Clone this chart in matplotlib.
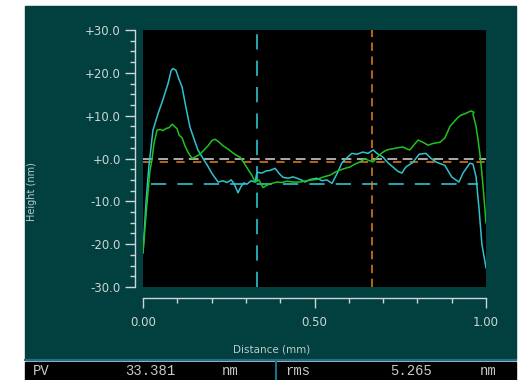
import numpy as np
import matplotlib
matplotlib.use("Agg")
from matplotlib import pyplot as plt
from matplotlib.patches import Rectangle

# Profile traces: distance (mm) and height (nm)
dist_a = [0.000, 0.009, 0.017, 0.029, 0.044, 0.058, 0.073, 0.082, 0.087, 0.096,
          0.105, 0.114, 0.125, 0.137, 0.149, 0.160, 0.175, 0.187, 0.201, 0.219,
          0.233, 0.245, 0.257, 0.265, 0.277, 0.286, 0.294, 0.303, 0.315, 0.327,
          0.332, 0.347, 0.359, 0.370, 0.385, 0.397, 0.408, 0.423, 0.437, 0.449,
          0.461, 0.472, 0.487, 0.507, 0.522, 0.536, 0.551, 0.566, 0.580, 0.595,
          0.609, 0.624, 0.641, 0.656, 0.671, 0.682, 0.700, 0.714, 0.729, 0.743,
          0.755, 0.766, 0.787, 0.805, 0.825, 0.840, 0.854, 0.880, 0.900, 0.921,
          0.933, 0.953, 0.962, 0.971, 0.980, 0.988, 1.000]
height_a = [-22.0, -10.0, -2.0, 6.6, 10.5, 13.7, 17.5, 20.5, 21.0, 20.6,
            18.5, 16.7, 12.0, 7.3, 4.5, 2.0, 0.0, -1.5, -3.5, -5.5,
            -5.2, -5.6, -5.0, -5.8, -8.0, -6.5, -5.7, -6.0, -5.2, -5.5,
            -3.2, -3.4, -2.9, -2.8, -2.3, -3.5, -4.4, -4.6, -4.3, -4.6,
            -5.0, -5.5, -4.9, -4.6, -5.2, -5.0, -5.8, -3.5, -1.0, 0.2,
            1.2, 1.0, 1.5, 1.2, 2.0, 1.2, 0.3, -1.0, -2.0, -3.0,
            -3.4, -2.0, -0.9, 1.0, 1.2, 0.0, -0.8, -1.6, -4.3, -5.5,
            -3.4, -1.1, -1.3, -4.3, -12.0, -20.0, -25.5]

dist_b = [0.000, 0.009, 0.015, 0.020, 0.026, 0.032, 0.041, 0.050, 0.058, 0.067,
          0.076, 0.085, 0.093, 0.099, 0.105, 0.114, 0.122, 0.131, 0.143, 0.155,
          0.166, 0.178, 0.190, 0.201, 0.210, 0.222, 0.233, 0.248, 0.259, 0.271,
          0.283, 0.294, 0.306, 0.318, 0.327, 0.338, 0.350, 0.362, 0.376, 0.391,
          0.405, 0.420, 0.437, 0.458, 0.475, 0.493, 0.507, 0.519, 0.531, 0.545,
          0.560, 0.574, 0.589, 0.603, 0.618, 0.633, 0.647, 0.656, 0.671, 0.685,
          0.700, 0.711, 0.729, 0.743, 0.758, 0.770, 0.778, 0.790, 0.802, 0.816,
          0.831, 0.845, 0.866, 0.880, 0.888, 0.895, 0.906, 0.917, 0.927, 0.940,
          0.956, 0.965, 0.962, 0.971, 0.977, 0.983, 0.988, 0.994, 1.000]
height_b = [-22.0, -13.0, -7.5, -3.0, -0.4, 3.5, 6.6, 6.8, 6.5, 7.0,
            7.2, 8.0, 7.4, 7.0, 5.5, 4.8, 3.0, 1.5, 0.0, 0.5,
            1.0, 2.0, 3.0, 4.2, 4.5, 3.8, 3.0, 2.2, 1.5, 0.8,
            0.3, -1.0, -2.5, -4.0, -5.5, -5.0, -6.8, -6.2, -5.8, -5.5,
            -5.6, -5.3, -5.5, -5.5, -5.2, -5.0, -4.9, -4.5, -4.2, -3.9,
            -3.2, -2.7, -2.3, -2.0, -1.3, -0.8, 0.0, -0.4, -0.8, 0.5,
            1.5, 2.0, 2.3, 2.5, 2.7, 2.2, 2.0, 3.2, 4.3, 3.8,
            3.1, 3.5, 3.8, 4.8, 6.2, 7.5, 8.5, 9.5, 10.1, 10.5,
            11.1, 10.8, 10.4, 7.5, 4.3, 0.5, -3.4, -9.0, -15.0]

# Cursor / reference lines
zero_level = 0.0
mean_level = -0.9
cursor_level = -5.9
cursor_a_x = 0.331
cursor_b_x = 0.668
cursor_span = (0.023, 0.977)

# Readouts in the status bar
pv_value = "33.381"
rms_value = "5.265"

W, H = 524, 380
panel = "#023f3f"
fg = "#cdd6d6"
cyan = "#2ec3cf"
green = "#1fc41f"
orange = "#d4781c"

plt.rcParams["lines.scale_dashes"] = False

fig = plt.figure(figsize=(W / 100, H / 100), dpi=100, facecolor="white")


def px(x0, y0, x1, y1):
    # pixel box (top-left origin) -> figure fraction
    return [x0 / W, 1 - y1 / H, (x1 - x0) / W, (y1 - y0) / H]


# Teal instrument panel and black status bar (behind the axes)
fig.patches.append(Rectangle((25 / W, 1 - 360 / H), 491 / W, 354 / H,
                             transform=fig.transFigure, color=panel, zorder=-2))
fig.patches.append(Rectangle((25 / W, 0), 491 / W, 18 / H,
                             transform=fig.transFigure, color="black", zorder=-2))
fig.add_artist(plt.Line2D([25 / W, 516 / W], [1 - 360 / H] * 2,
                          transform=fig.transFigure, color="#1b6f8f", lw=1.5))
fig.add_artist(plt.Line2D([276 / W, 276 / W], [0, 1 - 360 / H],
                          transform=fig.transFigure, color="#1b6f8f", lw=1.5))

ax = fig.add_axes(px(143, 30, 486, 287))
ax.set_facecolor("black")
ax.set_xlim(0, 1)
ax.set_ylim(-30, 30)

# Axes styling
for side in ("top", "right"):
    ax.spines[side].set_visible(False)
ax.spines["left"].set_position(("outward", 6))
ax.spines["bottom"].set_position(("outward", 8))
for side in ("left", "bottom"):
    ax.spines[side].set_color(fg)
    ax.spines[side].set_linewidth(1.0)

ax.set_yticks(np.arange(-30, 31, 10))
ax.set_yticks(np.arange(-30, 31, 2.5), minor=True)
ax.set_yticklabels(["%+.1f" % v for v in np.arange(-30, 31, 10)])
ax.set_xticks([0, 0.5, 1.0])
ax.set_xticks(np.arange(0, 1.01, 0.1), minor=True)
ax.set_xticklabels(["0.00", "0.50", "1.00"])
ax.tick_params(which="major", direction="out", length=7, width=1.0, color=fg,
               labelcolor=fg, labelsize=8.5)
ax.tick_params(which="minor", direction="out", length=3.5, width=1.0, color=fg)
ax.tick_params(axis="y", which="major", pad=3)
ax.tick_params(axis="x", which="major", pad=6)

# Reference lines
ax.axhline(zero_level, color="#c8c8c8", lw=1.2, dashes=(7, 4))
ax.axhline(mean_level, color=orange, lw=1.2, dashes=(6, 6))
ax.hlines(cursor_level, *cursor_span, color=cyan, lw=1.2, linestyles=(0, (11, 8)))
ax.axvline(cursor_a_x, color=cyan, lw=1.2, dashes=(11, 8))
ax.axvline(cursor_b_x, color=orange, lw=1.2, dashes=(6, 4))

# Profiles
ax.plot(dist_a, height_a, color=cyan, lw=1.1)
ax.plot(dist_b, height_b, color=green, lw=1.1)

fig.text(272 / W, 1 - 349 / H, "Distance (mm)", color="#b8cccc", fontsize=7.5,
         ha="center", va="center")
fig.text(32 / W, 1 - 192 / H, "Height (nm)", color="#b8cccc", fontsize=7,
         ha="center", va="center", rotation=90)

# Status bar readouts
bar_y = 1 - 371 / H
for x, s in [(33, "PV"), (125, pv_value), (222, "nm"),
             (285, "rms"), (390, rms_value), (480, "nm")]:
    fig.text(x / W, bar_y, s, color="#c8c8c8", fontsize=10,
             family="Liberation Mono", ha="left", va="center")

fig.savefig("out.png", dpi=100, facecolor="white")
